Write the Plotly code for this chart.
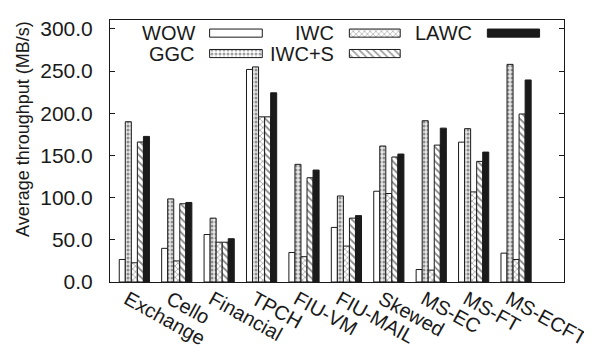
import plotly.graph_objects as go

categories = ["Exchange", "Cello", "Financial", "TPCH", "FIU-VM", "FIU-MAIL",
              "Skewed", "MS-EC", "MS-FT", "MS-ECFT"]
series_names = ["WOW", "GGC", "IWC", "IWC+S", "LAWC"]
wow = [26.7, 39.9, 56.3, 252.0, 35.0, 64.7, 107.6, 14.8, 165.8, 34.2]
ggc = [190.0, 98.5, 75.7, 255.0, 139.5, 102.0, 161.2, 191.2, 181.8, 258.0]
iwc = [22.8, 25.0, 47.2, 195.8, 30.0, 42.6, 104.9, 14.1, 106.8, 26.7]
iwc_s = [166.0, 92.8, 47.2, 195.8, 123.6, 75.7, 148.2, 162.3, 143.0, 199.2]
lawc = [172.6, 94.3, 51.3, 224.3, 132.7, 78.7, 151.7, 182.4, 154.0, 239.5]
y_ticks = [0, 50, 100, 150, 200, 250, 300]

FONT = "Liberation Sans, Arial, Helvetica, sans-serif"
INK = "#1a1a1a"

styles = {
    "WOW": dict(color="white", shape="", size=3, solidity=0.3, fg=INK, bg="white"),
    "GGC": dict(color="white", shape=".", size=4, solidity=0.45, fg="#333333", bg="#e8e8e8"),
    "IWC": dict(color="white", shape="x", size=4, solidity=0.3, fg="#222222", bg="white"),
    "IWC+S": dict(color="white", shape="\\", size=5, solidity=0.35, fg="#111111", bg="white"),
    "LAWC": dict(color=INK, shape="", size=3, solidity=0.3, fg=INK, bg=INK),
}

values = [wow, ggc, iwc, iwc_s, lawc]

fig = go.Figure()
for name, vals in zip(series_names, values):
    st = styles[name]
    fig.add_trace(go.Bar(
        x=categories, y=vals, name=name, showlegend=False,
        marker=dict(color=st["color"],
                    pattern=dict(shape=st["shape"], size=st["size"], solidity=st["solidity"],
                                 fgcolor=st["fg"], bgcolor=st["bg"]),
                    line=dict(color=INK, width=1)),
    ))

# custom legend (text left of wide swatch), drawn on an overlay axis in plot fractions
leg_x0 = [0.2194, 0.2194, 0.5272, 0.5272, 0.8312]
leg_w = [0.116, 0.116, 0.112, 0.112, 0.115]
leg_y = [0.950, 0.872, 0.950, 0.872, 0.950]
leg_txt_x = [0.1905, 0.1905, 0.4946, 0.4946, 0.7987]
leg_txt_y = [0.950, 0.869, 0.950, 0.869, 0.950]

fig.add_trace(go.Bar(
    orientation="h", xaxis="x2", yaxis="y2", showlegend=False, hoverinfo="skip",
    y=leg_y, x=leg_w, base=leg_x0, width=[0.031] * 5,
    marker=dict(
        color=[styles[n]["color"] for n in series_names],
        pattern=dict(
            shape=[styles[n]["shape"] for n in series_names],
            size=[styles[n]["size"] for n in series_names],
            solidity=[styles[n]["solidity"] for n in series_names],
            fgcolor=[styles[n]["fg"] for n in series_names],
            bgcolor=[styles[n]["bg"] for n in series_names],
        ),
        line=dict(color=INK, width=1),
    ),
))
for n, tx, ty in zip(series_names, leg_txt_x, leg_txt_y):
    fig.add_annotation(x=tx, y=ty, xref="x2", yref="y2", text=n, showarrow=False,
                       xanchor="right", yanchor="middle", borderpad=0,
                       font=dict(family=FONT, size=20, color=INK))

# y-axis title placed like the original (not centred on the plot)
fig.add_annotation(x=-0.19, y=0.583, xref="paper", yref="paper",
                   text="Average throughput (MB/s)", textangle=-90, showarrow=False,
                   xanchor="center", yanchor="middle", borderpad=0,
                   font=dict(family=FONT, size=18, color=INK))

fig.update_layout(
    width=592, height=351,
    margin=dict(l=102, r=29, t=10, b=69),
    paper_bgcolor="white", plot_bgcolor="white",
    barmode="group", bargap=0.288, bargroupgap=0,
    font=dict(family=FONT, size=18, color=INK),
    xaxis=dict(
        range=[-0.574, 10.13], tickangle=29, showgrid=False,
        showline=True, linecolor=INK, linewidth=1, mirror=True,
        ticks="", tickfont=dict(family=FONT, size=20, color=INK),
        ticklabelshift=-7, ticklabelstandoff=-3,
    ),
    yaxis=dict(
        range=[0, 310.6], tickvals=y_ticks, tickformat=".1f",
        showgrid=False, zeroline=False,
        showline=True, linecolor=INK, linewidth=1, mirror="allticks",
        ticks="inside", ticklen=5, tickcolor=INK,
        tickfont=dict(family=FONT, size=21, color=INK),
        ticklabelstandoff=12,
    ),
    xaxis2=dict(overlaying="x", range=[0, 1], visible=False, fixedrange=True),
    yaxis2=dict(overlaying="y", range=[0, 1], visible=False, fixedrange=True),
)

fig.write_html("out.html")
